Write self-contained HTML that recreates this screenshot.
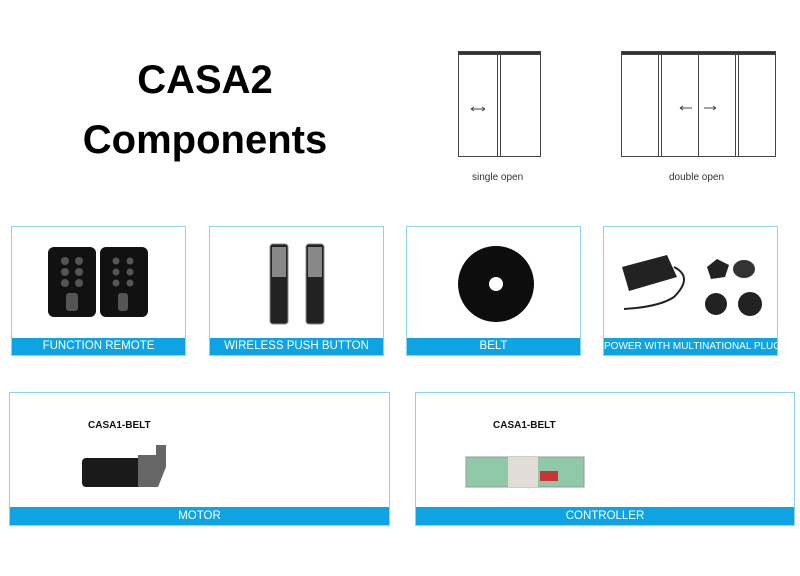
<!DOCTYPE html>
<html><head><meta charset="utf-8"><style>
body{margin:0;width:800px;height:576px;background:#fff;position:relative;overflow:hidden;font-family:"Liberation Sans",sans-serif}
.t{position:absolute;left:40px;width:330px;text-align:center;font-weight:bold;font-size:40px;color:#000}
.box{position:absolute;border:1px solid #8fd3ea;background:#fff;box-sizing:border-box}
.bar{position:absolute;left:0;right:0;bottom:0;height:17px;background:#0ea4e3;color:#fff;font-size:11.5px;text-align:center;line-height:17px;white-space:nowrap;overflow:hidden}
.lbl{position:absolute;font-size:10px;color:#333}
.cb{position:absolute;font-size:10px;font-weight:bold;color:#111}
</style></head><body>
<div class="t" style="top:58px">CASA2</div>
<div class="t" style="top:118px">Components</div>

<svg style="position:absolute;left:0;top:0" width="800" height="200">
<g fill="none" stroke="#444" stroke-width="1">
<rect x="458.5" y="52.5" width="82" height="104"/>
<rect x="458.5" y="51.5" width="82" height="3" fill="#333"/>
<line x1="497.5" y1="54" x2="497.5" y2="157"/><line x1="500.5" y1="54" x2="500.5" y2="157"/>
<rect x="621.5" y="52.5" width="154" height="104"/>
<rect x="621.5" y="51.5" width="154" height="3" fill="#333"/>
<line x1="658.5" y1="54" x2="658.5" y2="157"/><line x1="661.5" y1="54" x2="661.5" y2="157"/>
<line x1="698.5" y1="54" x2="698.5" y2="157"/>
<line x1="735.5" y1="54" x2="735.5" y2="157"/><line x1="738.5" y1="54" x2="738.5" y2="157"/>
<path d="M471 109h14M471 109l3-2M471 109l3 2M485 109l-3-2M485 109l-3 2"/>
<path d="M680 108h12M680 108l3-2M680 108l3 2"/>
<path d="M704 108h12M716 108l-3-2M716 108l-3 2"/>
</g>
</svg>
<div class="lbl" style="left:472px;top:172px">single open</div>
<div class="lbl" style="left:669px;top:172px">double open</div>

<div class="box" style="left:11px;top:226px;width:175px;height:130px">
<svg width="175" height="112" style="position:absolute;left:0;top:0">
<rect x="36" y="20" width="48" height="70" rx="6" fill="#111"/>
<rect x="88" y="20" width="48" height="70" rx="6" fill="#111"/>
<g fill="#555"><circle cx="53" cy="34" r="4"/><circle cx="67" cy="34" r="4"/><circle cx="53" cy="45" r="4"/><circle cx="67" cy="45" r="4"/><circle cx="53" cy="56" r="4"/><circle cx="67" cy="56" r="4"/>
<circle cx="104" cy="34" r="3.5"/><circle cx="118" cy="34" r="3.5"/><circle cx="104" cy="45" r="3.5"/><circle cx="118" cy="45" r="3.5"/><circle cx="104" cy="56" r="3.5"/><circle cx="118" cy="56" r="3.5"/>
<rect x="54" y="66" width="12" height="18" rx="3"/><rect x="106" y="66" width="10" height="18" rx="3"/></g>
</svg>
<div class="bar">FUNCTION REMOTE</div></div>

<div class="box" style="left:209px;top:226px;width:175px;height:130px">
<svg width="175" height="112" style="position:absolute;left:0;top:0">
<rect x="60" y="17" width="18" height="80" rx="3" fill="#222" stroke="#888"/>
<rect x="96" y="17" width="18" height="80" rx="3" fill="#222" stroke="#888"/>
<rect x="62" y="20" width="14" height="30" fill="#888"/><rect x="98" y="20" width="14" height="30" fill="#888"/>
</svg>
<div class="bar">WIRELESS PUSH BUTTON</div></div>

<div class="box" style="left:406px;top:226px;width:175px;height:130px">
<svg width="175" height="112" style="position:absolute;left:0;top:0">
<circle cx="89" cy="57" r="38" fill="#0d0d0d"/><circle cx="89" cy="57" r="7" fill="#fff"/>
</svg>
<div class="bar">BELT</div></div>

<div class="box" style="left:603px;top:226px;width:175px;height:130px">
<svg width="175" height="112" style="position:absolute;left:0;top:0">
<path d="M18 40l45-12 10 22-48 14z" fill="#222"/>
<path d="M70 40q20 10 0 30q-15 10-50 12" fill="none" stroke="#222" stroke-width="2"/>
<path d="M103 40l10-8 12 6-4 12-14 2z" fill="#222"/>
<ellipse cx="140" cy="42" rx="11" ry="9" fill="#333"/>
<circle cx="112" cy="77" r="11" fill="#222"/><circle cx="146" cy="77" r="12" fill="#222"/>
</svg>
<div class="bar" style="font-size:10px">POWER WITH MULTINATIONAL PLUG</div></div>

<div class="box" style="left:9px;top:392px;width:381px;height:134px">
<div class="cb" style="left:78px;top:27px">CASA1-BELT</div>
<svg width="381" height="116" style="position:absolute;left:0;top:0">
<rect x="72" y="65" width="60" height="29" rx="4" fill="#1a1a1a"/>
<path d="M128 62h18v-10h10v22l-8 20h-20z" fill="#666"/>
</svg>
<div class="bar" style="height:18px;line-height:18px">MOTOR</div></div>

<div class="box" style="left:415px;top:392px;width:380px;height:134px">
<div class="cb" style="left:77px;top:27px">CASA1-BELT</div>
<svg width="380" height="116" style="position:absolute;left:0;top:0">
<rect x="50" y="64" width="118" height="30" fill="#8fc9a8" stroke="#999"/>
<rect x="92" y="64" width="30" height="30" fill="#e0ddd8"/>
<rect x="124" y="78" width="18" height="10" fill="#c33"/>
</svg>
<div class="bar" style="height:18px;line-height:18px">CONTROLLER</div></div>
</body></html>
